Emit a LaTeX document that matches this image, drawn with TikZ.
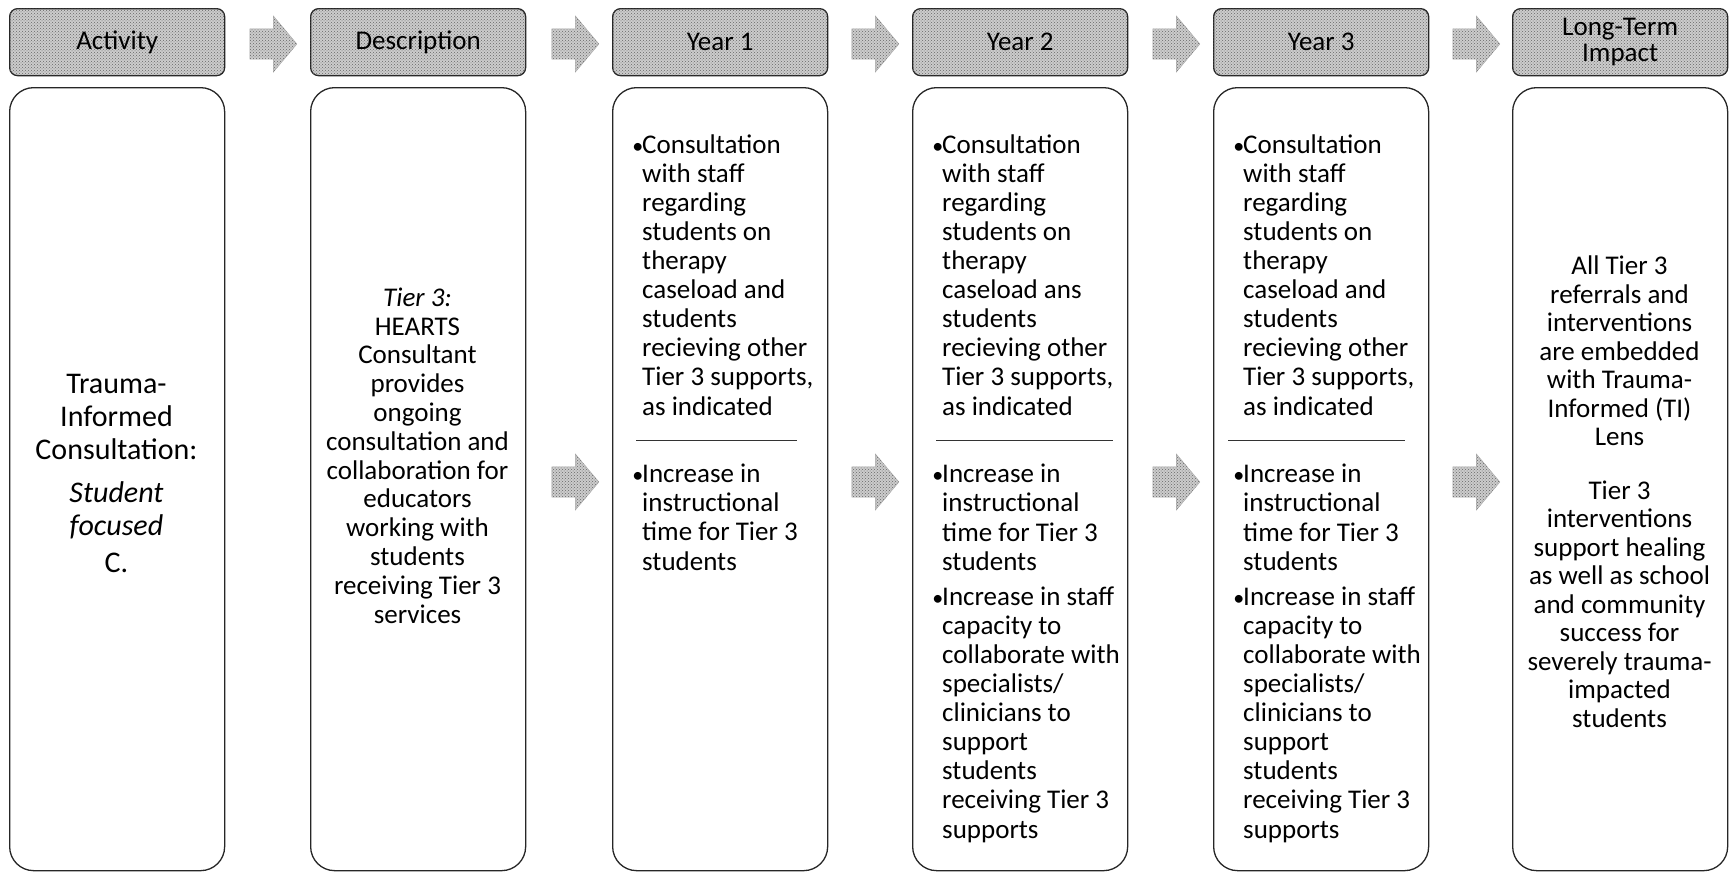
\documentclass[tikz,border=0pt]{standalone}
\usepackage{fontspec}
\setmainfont{Carlito}
\usetikzlibrary{shapes.arrows,patterns}

\newcommand{\bul}{\llap{{\fontsize{22}{22}\selectfont\textbullet}\hspace{-1pt}}}

\tikzset{
  head/.style={draw=black!85, line width=1.3pt, rounded corners=8pt, fill=gray!40,
    postaction={pattern=crosshatch dots, pattern color=black!60},
    minimum width=215pt, minimum height=67pt, inner sep=0pt, anchor=north west,
    align=center, font=\fontsize{27}{26}\selectfont},
  body/.style={draw=black!85, line width=1.3pt, rounded corners=24pt,
    minimum width=215pt, minimum height=783pt, inner sep=0pt, anchor=north west},
  bodytxt/.style={font=\fontsize{27}{29.1}\selectfont, inner sep=0pt},
  blkarrow/.style={single arrow, draw=gray!70, line width=0.4pt, fill=gray!40,
    postaction={pattern=crosshatch dots, pattern color=black!60},
    minimum height=47pt, inner sep=15pt, single arrow head extend=13pt,
    single arrow tip angle=100},
  sepline/.style={line width=1pt, black!80}
}

\begin{document}
\begin{tikzpicture}[x=1pt, y=-1pt]
    \useasboundingbox (0,0) rectangle (1729,873);
    % headers
    \node[head] (hact) at (9,8) {Activity};
    \node[head] (hdesc) at (310,8) {Description};
    \node[head] (hyr1) at (612,8) {Year 1};
    \node[head] (hyr2) at (912,8) {Year 2};
    \node[head] (hyr3) at (1213,8) {Year 3};
    \node[head] (himp) at (1512,8) {Long-Term\\Impact};
    % columns
    \node[body] (act) at (9,87) {};
    \node[body] (desc) at (310,87) {};
    \node[body] (yr1) at (612,87) {};
    \node[body] (yr2) at (912,87) {};
    \node[body] (yr3) at (1213,87) {};
    \node[body] (imp) at (1512,87) {};
    % arrows
    \node[blkarrow] (a1) at (267,44) {};
    \node[blkarrow] (a2) at (569,44) {};
    \node[blkarrow] (a3) at (869,44) {};
    \node[blkarrow] (a4) at (1170,44) {};
    \node[blkarrow] (a5) at (1470,44) {};
    \node[blkarrow] (b2) at (569,482) {};
    \node[blkarrow] (b3) at (869,482) {};
    \node[blkarrow] (b4) at (1170,482) {};
    \node[blkarrow] (b5) at (1470,482) {};

    % activity (base = last line)
    \node[inner sep=0pt, align=center, font=\fontsize{30}{33}\selectfont, anchor=base]
      (tact) at (116.5,572) {Trauma-\\Informed\\Consultation:\\[10pt]\textit{Student}\\\textit{focused}\\[4pt]C.};
    % description
    \node[inner sep=0pt, align=center, font=\fontsize{27}{28.8}\selectfont, anchor=base] (tdesc) at (417.5,623)
      {\textit{Tier 3:}\\HEARTS\\Consultant\\provides\\ongoing\\consultation and\\collaboration for\\educators\\working with\\students\\receiving Tier 3\\services};

    % year 1
    \node[bodytxt, align=left, anchor=base west] (t1a) at (642,415)
      {\bul Consultation\\with staff\\regarding\\students on\\therapy\\caseload and\\students\\recieving other\\Tier 3 supports,\\as indicated};
    \draw[sepline] (636,440) -- (797,440);
    \node[bodytxt, align=left, anchor=base west] (t1b) at (642,570)
      {\bul Increase in\\instructional\\time for Tier 3\\students};

    % year 2
    \node[bodytxt, align=left, anchor=base west] (t2a) at (942,415)
      {\bul Consultation\\with staff\\regarding\\students on\\therapy\\caseload ans\\students\\recieving other\\Tier 3 supports,\\as indicated};
    \draw[sepline] (936,440) -- (1113,440);
    \node[bodytxt, align=left, anchor=base west] (t2b) at (942,838)
      {\bul Increase in\\instructional\\time for Tier 3\\students\\[6pt]\bul Increase in staff\\capacity to\\collaborate with\\specialists/\\clinicians to\\support\\students\\receiving Tier 3\\supports};

    % year 3
    \node[bodytxt, align=left, anchor=base west] (t3a) at (1243,415)
      {\bul Consultation\\with staff\\regarding\\students on\\therapy\\caseload and\\students\\recieving other\\Tier 3 supports,\\as indicated};
    \draw[sepline] (1228,440) -- (1405,440);
    \node[bodytxt, align=left, anchor=base west] (t3b) at (1243,838)
      {\bul Increase in\\instructional\\time for Tier 3\\students\\[6pt]\bul Increase in staff\\capacity to\\collaborate with\\specialists/\\clinicians to\\support\\students\\receiving Tier 3\\supports};

    % long-term impact
    \node[inner sep=0pt, align=center, font=\fontsize{27}{28.5}\selectfont, anchor=base] (timp) at (1619.5,727)
      {All Tier 3\\referrals and\\interventions\\are embedded\\with Trauma-\\Informed (TI)\\Lens\\[25pt]Tier 3\\interventions\\support healing\\as well as school\\and community\\success for\\severely trauma-\\impacted\\students};
\end{tikzpicture}
\end{document}
